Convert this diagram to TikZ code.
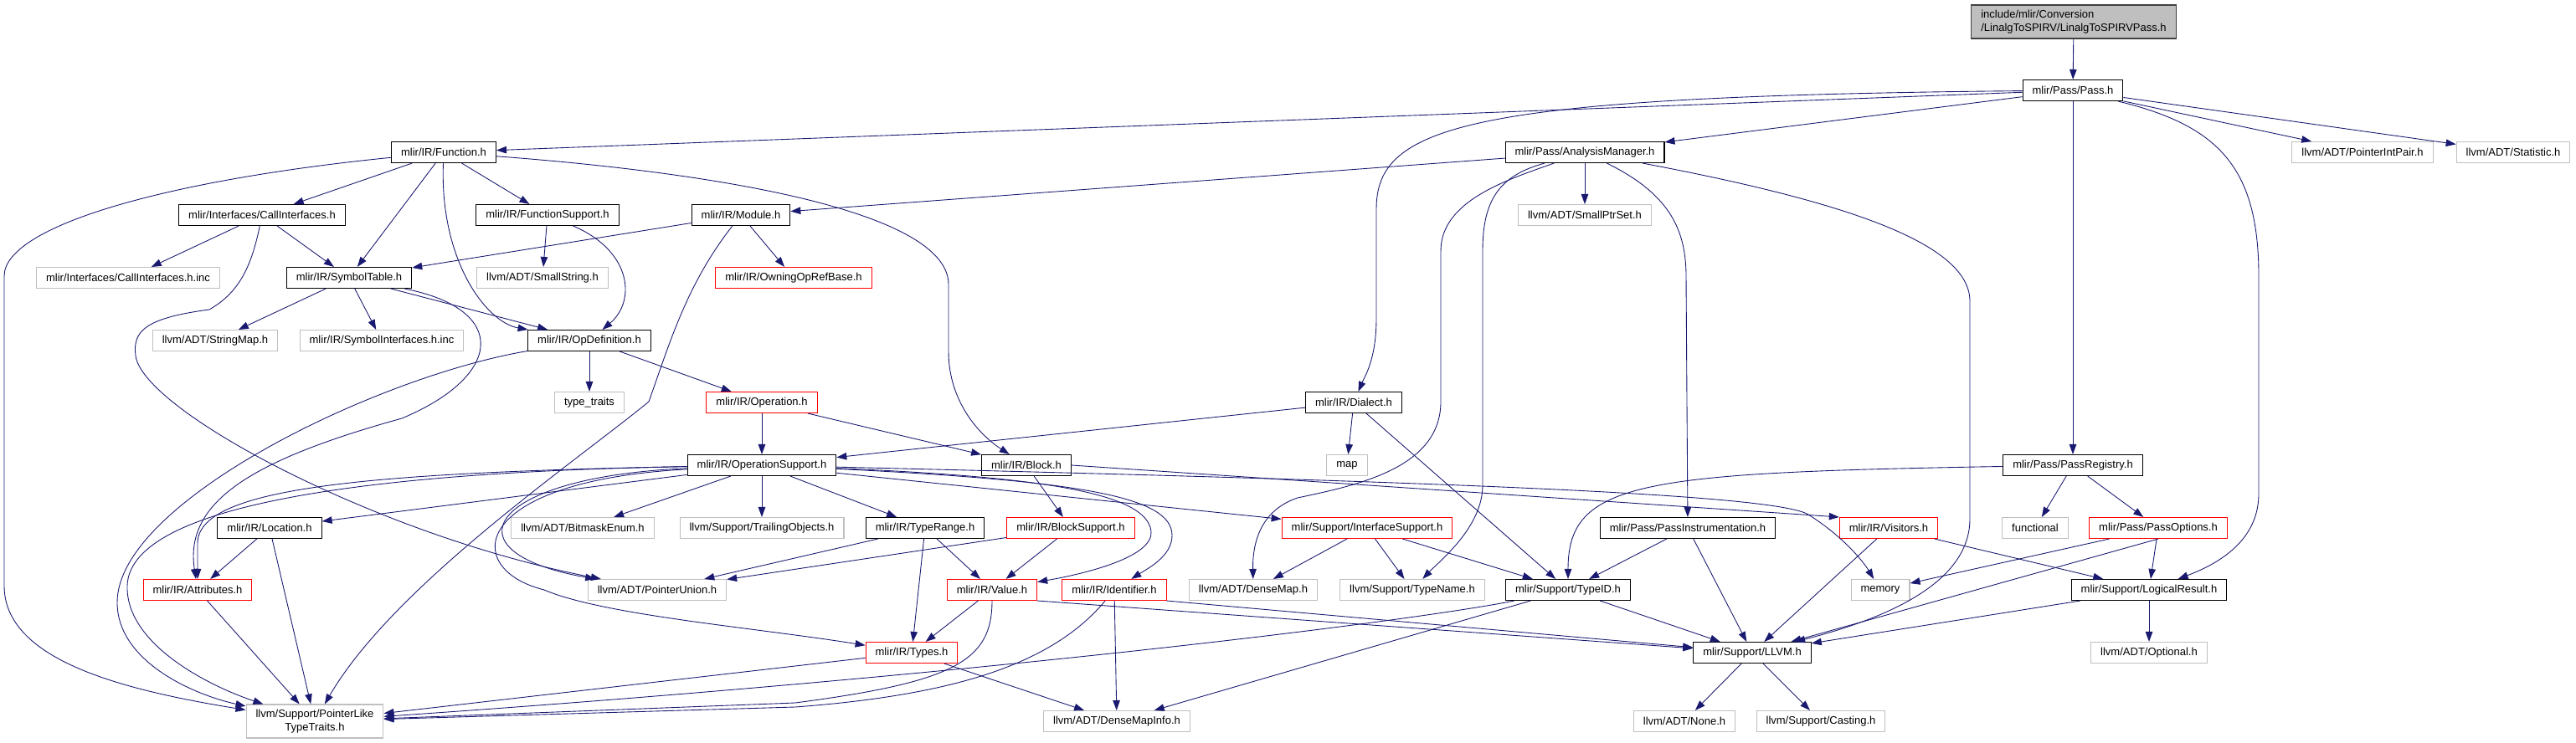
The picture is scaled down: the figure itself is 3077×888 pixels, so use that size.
\documentclass[tikz,border=0pt]{standalone}
\usepackage{fontspec}
\setmainfont{Liberation Sans}
\usepackage{tikz}
\usetikzlibrary{arrows.meta}
\definecolor{depBlue}{HTML}{191970}
\definecolor{extGray}{HTML}{BFBFBF}
\definecolor{truncRed}{HTML}{FF0000}
\definecolor{rootFill}{HTML}{BFBFBF}
\definecolor{rootEdge}{HTML}{404040}

\begin{document}
\begin{tikzpicture}[x=0.02cm, y=-0.02cm,
  every node/.style={font=\fontsize{7.4}{8.8}\selectfont, inner xsep=0.23cm, inner ysep=0pt, minimum height=0.5cm, line width=0.6pt},
  docBox/.style={draw=black, fill=white},
  extBox/.style={draw=extGray, fill=white},
  redBox/.style={draw=truncRed, fill=white},
  rootBox/.style={draw=rootEdge, fill=rootFill, align=left, minimum height=0.8cm},
  dep/.style={depBlue, line width=0.5pt, -{Triangle[length=0.24cm, width=0.17cm]}}]
\useasboundingbox (0,0) rectangle (3077,888);

\node[rootBox] (root) at (2477,26) {include/mlir/Conversion\\/LinalgToSPIRV/LinalgToSPIRVPass.h};
\node[docBox] (pass) at (2476,108) {mlir/Pass/Pass.h};
\node[docBox] (func) at (530,182) {mlir/IR/Function.h};
\node[docBox] (anam) at (1893,182) {mlir/Pass/AnalysisManager.h};
\node[extBox] (ptrint) at (2822,182) {llvm/ADT/PointerIntPair.h};
\node[extBox] (stat) at (3002,182) {llvm/ADT/Statistic.h};
\node[docBox] (callif) at (313,257) {mlir/Interfaces/CallInterfaces.h};
\node[docBox] (funcsup) at (654,257) {mlir/IR/FunctionSupport.h};
\node[docBox] (module) at (885,257) {mlir/IR/Module.h};
\node[extBox] (smallptr) at (1893,257) {llvm/ADT/SmallPtrSet.h};
\node[extBox] (callinc) at (153,332) {mlir/Interfaces/CallInterfaces.h.inc};
\node[docBox] (symtab) at (417,332) {mlir/IR/SymbolTable.h};
\node[extBox] (smallstr) at (648,332) {llvm/ADT/SmallString.h};
\node[redBox] (owning) at (948,332) {mlir/IR/OwningOpRefBase.h};
\node[extBox] (strmap) at (257,407) {llvm/ADT/StringMap.h};
\node[extBox] (syminc) at (456,407) {mlir/IR/SymbolInterfaces.h.inc};
\node[docBox] (opdef) at (704,407) {mlir/IR/OpDefinition.h};
\node[extBox] (typetr) at (704,481) {type\_traits};
\node[redBox] (operation) at (910,481) {mlir/IR/Operation.h};
\node[docBox] (dialect) at (1617,481) {mlir/IR/Dialect.h};
\node[docBox] (opsup) at (910,556) {mlir/IR/OperationSupport.h};
\node[docBox] (block) at (1226,556) {mlir/IR/Block.h};
\node[extBox] (mapn) at (1609,556) {map};
\node[docBox] (passreg) at (2476,556) {mlir/Pass/PassRegistry.h};
\node[docBox] (location) at (322,631) {mlir/IR/Location.h};
\node[extBox] (bitmask) at (696,631) {llvm/ADT/BitmaskEnum.h};
\node[extBox] (trailing) at (910,631) {llvm/Support/TrailingObjects.h};
\node[docBox] (typerange) at (1105,631) {mlir/IR/TypeRange.h};
\node[redBox] (blocksup) at (1279,631) {mlir/IR/BlockSupport.h};
\node[redBox] (ifsup) at (1633,631) {mlir/Support/InterfaceSupport.h};
\node[docBox] (passinst) at (2016,631) {mlir/Pass/PassInstrumentation.h};
\node[redBox] (visitors) at (2256,631) {mlir/IR/Visitors.h};
\node[extBox] (functional) at (2431,631) {functional};
\node[redBox] (passopt) at (2578,631) {mlir/Pass/PassOptions.h};
\node[redBox] (attrs) at (236,705) {mlir/IR/Attributes.h};
\node[extBox] (ptrunion) at (785,705) {llvm/ADT/PointerUnion.h};
\node[redBox] (value) at (1185,705) {mlir/IR/Value.h};
\node[redBox] (identifier) at (1331,705) {mlir/IR/Identifier.h};
\node[extBox] (densemap) at (1497,705) {llvm/ADT/DenseMap.h};
\node[extBox] (typename) at (1687,705) {llvm/Support/TypeName.h};
\node[docBox] (typeid) at (1873,705) {mlir/Support/TypeID.h};
\node[extBox] (memory) at (2246,705) {memory};
\node[docBox] (logres) at (2567,705) {mlir/Support/LogicalResult.h};
\node[redBox] (types) at (1089,780) {mlir/IR/Types.h};
\node[docBox] (llvm) at (2093,780) {mlir/Support/LLVM.h};
\node[extBox] (optional) at (2567,780) {llvm/ADT/Optional.h};
\node[extBox, align=center, minimum height=0.8cm] (ptrlike) at (376,862) {llvm/Support/PointerLike\\TypeTraits.h};
\node[extBox] (densemapinfo) at (1334,862) {llvm/ADT/DenseMapInfo.h};
\node[extBox] (llvmnone) at (2012,862) {llvm/ADT/None.h};
\node[extBox] (casting) at (2175,862) {llvm/Support/Casting.h};

\foreach \a/\b in {root/pass, pass/func, pass/anam, pass/ptrint, pass/stat, pass/passreg,
    func/callif, func/symtab, func/funcsup, callif/callinc, callif/symtab, funcsup/smallstr,
    module/symtab, module/owning, anam/module, anam/smallptr, symtab/strmap, symtab/syminc,
    symtab/opdef, opdef/typetr, opdef/operation, operation/opsup, operation/block,
    dialect/mapn, dialect/typeid, dialect/opsup, block/blocksup, opsup/location,
    opsup/bitmask, opsup/trailing, opsup/typerange, opsup/ifsup, typerange/ptrunion,
    typerange/types, typerange/value, blocksup/ptrunion, blocksup/value, value/types,
    identifier/densemapinfo, types/densemapinfo, types/ptrlike, location/attrs,
    location/ptrlike, attrs/ptrlike, ifsup/densemap, ifsup/typename, ifsup/typeid,
    passinst/typeid, passinst/llvm, passreg/functional, passreg/passopt, passopt/memory,
    passopt/logres, visitors/llvm, visitors/logres, logres/optional, logres/llvm,
    typeid/llvm, typeid/densemapinfo, llvm/llvmnone, llvm/casting}
  \draw[dep] (\a) -- (\b);

\draw[dep] (block.east) -- (visitors.north west);
\draw[dep] (value.south east) -- (llvm);
\draw[dep] (identifier.south east) -- (llvm);
\draw[dep] (passopt.south) -- (llvm);
\draw[dep] (typeid) .. controls (1700,740) and (1200,805) .. (ptrlike);

\draw[dep] (pass) .. controls (1750,115) and (1644,150) .. (1644,250) -- (1644,380) .. controls (1644,430) and (1630,450) .. (dialect);
\draw[dep] (pass) .. controls (2650,150) and (2698,200) .. (2698,330) -- (2698,590) .. controls (2698,640) and (2660,670) .. (logres);
\draw[dep] (func) .. controls (900,210) and (1133,260) .. (1133,340) -- (1133,420) .. controls (1133,480) and (1170,520) .. (block);
\draw[dep] (func) .. controls (525,310) and (580,385) .. (opdef);
\draw[dep] (func) .. controls (200,215) and (5,270) .. (5,330) -- (5,700) .. controls (5,790) and (150,825) .. (ptrlike);
\draw[dep] (funcsup) .. controls (755,300) and (760,360) .. (opdef);
\draw[dep] (callif) .. controls (300,320) and (285,350) .. (250,370) .. controls (175,380) and (158,395) .. (162,425) .. controls (170,490) and (450,640) .. (ptrunion);
\draw[dep] (module) .. controls (820,340) and (800,410) .. (775,480) .. controls (690,550) and (470,700) .. (ptrlike);
\draw[dep] (symtab) .. controls (610,370) and (600,450) .. (480,500) .. controls (300,550) and (220,600) .. (attrs);
\draw[dep] (opdef) .. controls (450,450) and (140,600) .. (140,720) .. controls (140,790) and (230,830) .. (ptrlike);
\draw[dep] (opsup) .. controls (420,565) and (235,585) .. (236,650) -- (attrs);
\draw[dep] (opsup) .. controls (400,565) and (155,610) .. (152,700) .. controls (150,770) and (250,820) .. (ptrlike);
\draw[dep] (opsup) .. controls (580,570) and (530,660) .. (ptrunion);
\draw[dep] (opsup) .. controls (560,575) and (550,680) .. (650,705) .. controls (720,735) and (900,750) .. (types);
\draw[dep] (opsup) .. controls (1250,570) and (1370,590) .. (1375,635) .. controls (1378,665) and (1300,685) .. (value);
\draw[dep] (opsup) .. controls (1300,575) and (1400,595) .. (1400,640) .. controls (1400,665) and (1370,680) .. (identifier);
\draw[dep] (opsup) .. controls (1700,575) and (2120,590) .. (2160,615) .. controls (2200,640) and (2225,670) .. (memory);
\draw[dep] (value) .. controls (1185,790) and (1140,815) .. (950,840) -- (ptrlike);
\draw[dep] (identifier) .. controls (1260,790) and (1150,830) .. (950,845) -- (ptrlike);
\draw[dep] (anam) .. controls (1800,215) and (1721,240) .. (1721,300) -- (1721,480) .. controls (1721,560) and (1620,580) .. (1550,595) .. controls (1505,610) and (1496,650) .. (densemap);
\draw[dep] (anam) .. controls (1790,210) and (1771,240) .. (1771,300) -- (1771,580) .. controls (1771,630) and (1720,670) .. (typename);
\draw[dep] (anam) .. controls (1990,230) and (2014,270) .. (2014,330) -- (passinst);
\draw[dep] (anam) .. controls (2200,240) and (2353,290) .. (2353,360) -- (2353,620) .. controls (2353,690) and (2270,735) .. (llvm);
\draw[dep] (passreg) .. controls (1960,565) and (1873,575) .. (typeid);
\end{tikzpicture}
\end{document}
